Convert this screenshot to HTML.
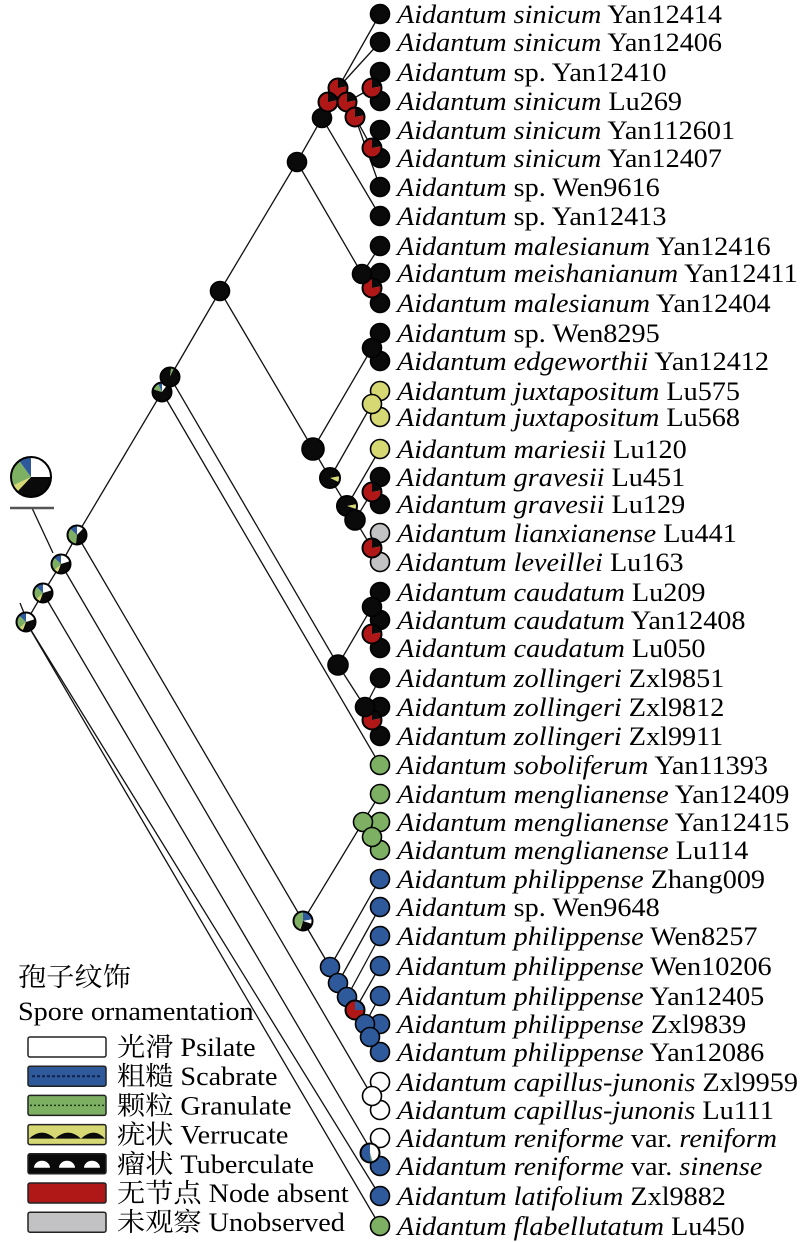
<!DOCTYPE html>
<html><head><meta charset="utf-8"><style>
html,body{margin:0;padding:0;background:#fff;}
svg{display:block;}
text{font-family:"Liberation Serif","Noto Serif CJK SC",serif;fill:#000;}
</style></head><body>
<svg id="s" xmlns="http://www.w3.org/2000/svg" width="800" height="1242" viewBox="0 0 800 1242">
<g id="lines" stroke="#111" stroke-width="1.3" fill="none"></g>
<g id="nodes"></g>
<g id="labels" font-size="26"></g>
<g id="legend"></g>
</svg>
<script>
var NS="http://www.w3.org/2000/svg";
var K="#0a0a0a",R="#b01818",G="#7db062",B="#2e5a9b",Y="#d6d873",E="#c2c2c4",W="#ffffff";
var SX=1.085;
function el(p,t,a){var e=document.createElementNS(NS,t);for(var k in a)e.setAttribute(k,a[k]);p.appendChild(e);return e;}
var L=document.getElementById('lines'),N=document.getElementById('nodes'),T=document.getElementById('labels'),LG=document.getElementById('legend');
function ln(a,b,c,d,col,w){el(L,'line',{x1:a,y1:b,x2:c,y2:d,stroke:col||"#111","stroke-width":w||1.3});}
function stext(p,x,y,fs){return el(p,'text',{x:0,y:0,"font-size":fs,transform:"translate("+x+","+y+") scale("+SX+",1)"});}
function pie(cx,cy,r,parts){
 if(parts.length==1){el(N,'circle',{cx:cx,cy:cy,r:r,fill:parts[0][0],stroke:"#000","stroke-width":1.6});return;}
 var a=0;
 parts.forEach(function(p){
  var a2=a+p[1]*2*Math.PI;
  var x1=cx+r*Math.sin(a),y1=cy-r*Math.cos(a),x2=cx+r*Math.sin(a2),y2=cy-r*Math.cos(a2);
  var big=(a2-a)>Math.PI?1:0;
  el(N,'path',{d:"M"+cx+","+cy+" L"+x1+","+y1+" A"+r+","+r+" 0 "+big+" 1 "+x2+","+y2+" Z",fill:p[0]});
  a=a2;
 });
 el(N,'circle',{cx:cx,cy:cy,r:r,fill:"none",stroke:"#000","stroke-width":2});
}
function addT(tx,s,it){var t=el(tx,'tspan',{});if(it)t.setAttribute('font-style','italic');t.textContent=s;}
var tips=[
[14,"sinicum","Yan12414",K],[42,"sinicum","Yan12406",K],[72,"","sp. Yan12410",K],[101,"sinicum","Lu269",K],
[130,"sinicum","Yan112601",K],[158,"sinicum","Yan12407",K],[187,"","sp. Wen9616",K],[216,"","sp. Yan12413",K],
[246,"malesianum","Yan12416",K],[273,"meishanianum","Yan12411",K],[303,"malesianum","Yan12404",K],
[333,"","sp. Wen8295",K],[361,"edgeworthii","Yan12412",K],[391,"juxtapositum","Lu575",Y],[417,"juxtapositum","Lu568",Y],
[449,"mariesii","Lu120",Y],[477,"gravesii","Lu451",K],[504,"gravesii","Lu129",K],[533,"lianxianense","Lu441",E],
[562,"leveillei","Lu163",E],[592,"caudatum","Lu209",K],[620,"caudatum","Yan12408",K],[648,"caudatum","Lu050",K],
[678,"zollingeri","Zxl9851",K],[707,"zollingeri","Zxl9812",K],[736,"zollingeri","Zxl9911",K],
[765,"soboliferum","Yan11393",G],[794,"menglianense","Yan12409",G],[822,"menglianense","Yan12415",G],
[850,"menglianense","Lu114",G],[879,"philippense","Zhang009",B],[907,"","sp. Wen9648",B],
[936,"philippense","Wen8257",B],[966,"philippense","Wen10206",B],[996,"philippense","Yan12405",B],
[1024,"philippense","Zxl9839",B],[1052,"philippense","Yan12086",B],[1082,"capillus-junonis","Zxl9959",W],
[1110,"capillus-junonis","Lu111",W],[1138,"reniforme","var.|reniform",W],[1166,"reniforme","var.|sinense",B],
[1196,"latifolium","Zxl9882",B],[1226,"flabellutatum","Lu450",G]];
var lines=[
[26,622,380,1226],[26,622,380,1196],[20,603,24,613],[26,622,43,593],[43,593,372,1152],[43,593,61,564],
[61,564,372,1096],[61,564,77,535],[77,535,303,921],[77,535,162,392],[32,508,53,553],
[162,392,380,765],[162,392,170,377],[170,377,220,291],[170,377,338,665],
[220,291,297,162],[220,291,313,449],[297,162,322,118],[297,162,362,274],
[322,118,328,102],[322,118,380,216],[328,102,338,88],[338,88,380,14],[338,88,380,42],
[328,102,347,102],[347,102,355,117],[347,102,372,88],[372,88,380,72],[372,88,380,101],
[355,117,372,148],[372,148,380,130],[372,148,380,158],[355,117,380,187],
[362,274,380,246],[362,274,372,288],[372,288,380,273],[372,288,380,303],
[313,449,372,348],[372,348,380,333],[372,348,380,361],[313,449,330,478],[330,478,372,404],[372,404,380,391],[372,404,380,417],
[330,478,347,506],[347,506,380,449],[347,506,355,520],[355,520,372,492],[372,492,380,477],[372,492,380,504],
[355,520,372,548],[372,548,380,533],[372,548,380,562],
[338,665,372,607],[372,607,380,592],[372,607,372,634],[372,634,380,620],[372,634,380,648],
[338,665,365,707],[365,707,380,678],[365,707,372,720],[372,720,380,707],[372,720,380,736],
[303,921,363,822],[363,822,380,794],[363,822,372,837],[372,837,380,822],[372,837,380,850],
[303,921,330,967],[330,967,380,879],[330,967,338,983],[338,983,380,907],[338,983,347,997],[347,997,380,936],
[347,997,355,1010],[355,1010,380,966],[355,1010,365,1024],[365,1024,380,996],[365,1024,370,1037],[370,1037,380,1024],[370,1037,380,1052],
[372,1096,380,1082],[372,1096,380,1110],[370,1153,380,1138],[370,1153,380,1166]];
lines.forEach(function(l){ln(l[0],l[1],l[2],l[3]);});
ln(10,508,54,508,"#555",2.5);
tips.forEach(function(t){pie(380,t[0],9.5,[[t[3],1]]);
 var tx=stext(T,397,t[0]+9,26);
 addT(tx,"Aidantum"+(t[1]?" "+t[1]:""),true);
 if(t[2].indexOf("|")>=0){var p=t[2].split("|");addT(tx," "+p[0]+" ",false);addT(tx,p[1],true);}
 else addT(tx," "+t[2],false);
});
var anc=[[W,.2],[K,.36],[Y,.07],[G,.24],[B,.13]];
pie(31,477,20,[[W,.25],[K,.37],[Y,.06],[G,.22],[B,.10]]);
pie(26,622,9.5,anc);pie(43,593,9.5,anc);pie(61,564,9.5,anc);pie(77,535,9.5,[[W,.12],[K,.4],[G,.35],[B,.13]]);
pie(162,392,9.5,[[W,.1],[K,.7],[G,.13],[B,.07]]);
pie(170,377,9.5,[[K,.02],[G,.05],[K,.93]]);
pie(220,291,9.5,[[K,1]]);pie(297,162,9.5,[[K,1]]);pie(322,118,9.5,[[K,1]]);
[[338,88],[328,102],[347,102],[355,117],[372,88],[372,148],[372,288],[372,492],[372,548],[372,634],[372,720]].forEach(function(p){pie(p[0],p[1],9.5,[[K,.22],[R,.78]]);});
pie(362,274,9.5,[[K,1]]);pie(372,348,9.5,[[K,1]]);pie(313,449,11,[[K,1]]);
pie(330,478,10,[[K,.22],[Y,.1],[K,.68]]);pie(347,506,10,[[K,.22],[Y,.08],[K,.7]]);pie(355,520,10,[[K,1]]);
pie(372,404,9.5,[[Y,1]]);
pie(338,665,10,[[K,1]]);pie(372,607,9.5,[[K,1]]);pie(365,707,9.5,[[K,1]]);
pie(303,921,9.5,[[B,.22],[W,.08],[K,.25],[Y,.02],[G,.43]]);
pie(363,822,9.5,[[G,1]]);pie(372,837,9.5,[[G,1]]);
pie(330,967,9.5,[[B,1]]);pie(338,983,9.5,[[B,1]]);pie(347,997,9.5,[[B,1]]);
pie(355,1010,9.5,[[B,.25],[R,.75]]);pie(365,1024,9.5,[[B,1]]);pie(370,1037,9.5,[[B,1]]);
pie(372,1096,9.5,[[W,1]]);
pie(370,1153,9.5,[[W,.45],[G,.03],[B,.52]]);
stext(LG,18,986,26).textContent="孢子纹饰";
stext(LG,18,1020,26).textContent="Spore ornamentation";
var items=[[W,"光滑 Psilate"],[B,"粗糙 Scabrate"],[G,"颗粒 Granulate"],[Y,"疣状 Verrucate"],[K,"瘤状 Tuberculate"],[R,"无节点 Node absent"],[E,"未观察 Unobserved"]];
items.forEach(function(it,i){
 var y=1047+i*29.2;
 el(LG,'rect',{x:28,y:y-10,width:78,height:20,rx:2,fill:it[0],stroke:"#222","stroke-width":1.5});
 if(i==2)el(LG,'line',{x1:30,y1:y,x2:104,y2:y,stroke:"#1a3a10","stroke-width":1.5,"stroke-dasharray":"2,2"});
 if(i==1)el(LG,'line',{x1:32,y1:y,x2:102,y2:y,stroke:"#10204a","stroke-width":2,"stroke-dasharray":"3,2"});
 if(i==3){el(LG,'path',{d:"M29,"+(y+4)+" Q42,"+(y-8)+" 55,"+(y+4)+" Q68,"+(y-8)+" 81,"+(y+4)+" Q94,"+(y-8)+" 105,"+(y+4),fill:K});}
 if(i==4){[42,67,92].forEach(function(cx){el(LG,'path',{d:"M"+(cx-8)+","+(y+4)+" A8,7 0 0 1 "+(cx+8)+","+(y+4)+" Z",fill:W});});}
 stext(LG,117,y+9,26).textContent=it[1];
});
</script>
</body></html>
